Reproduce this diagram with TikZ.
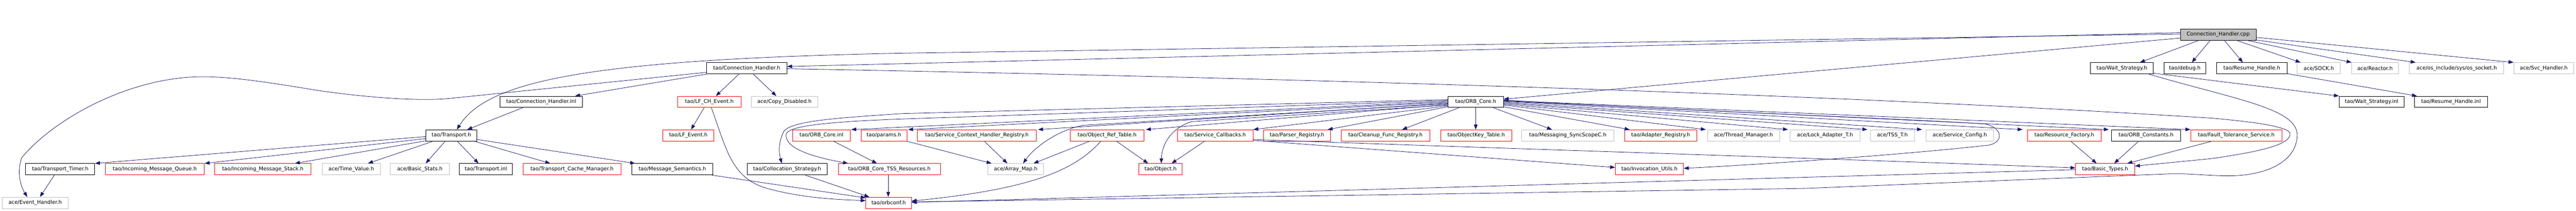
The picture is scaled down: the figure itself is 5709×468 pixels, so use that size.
\documentclass[tikz,border=0pt]{standalone}
\usepackage{fontspec}
\setmainfont{DejaVu Sans}
\usetikzlibrary{arrows.meta,calc}
\definecolor{edgec}{HTML}{191970}
\definecolor{boxgray}{HTML}{BFBFBF}
\definecolor{boxred}{HTML}{FF0000}
\newcommand{\gnode}[6]{\node[#5, minimum width={(#3-#2)*1pt}] (#1) at ({(#2+#3)/2},#4) {#6};}
\tikzset{
  box/.style={rectangle, draw, minimum height=25pt, inner sep=0pt, line width=1pt, font=\fontsize{11.5}{13}\selectfont},
  blkbox/.style={box, draw=black},
  redbox/.style={box, draw=boxred},
  graybox/.style={box, draw=boxgray},
  rootbox/.style={box, draw=black, fill=boxgray},
  dep/.style={draw=edgec, line width=0.9pt, -{Triangle[length=11pt,width=8pt]}}
}
\begin{document}
\begin{tikzpicture}[x=1pt,y=-1pt]
\useasboundingbox[fill=white] (0,0) rectangle (5709,468);
% row 0
\gnode{chc}{4832}{5000}{76.5}{rootbox}{Connection\_Handler.cpp}
% row 1
\gnode{ch}{1566}{1744}{151.5}{blkbox}{tao/Connection\_Handler.h}
\gnode{ws}{4633}{4772}{151.5}{blkbox}{tao/Wait\_Strategy.h}
\gnode{dbg}{4796}{4888}{151.5}{blkbox}{tao/debug.h}
\gnode{rh}{4912}{5069}{151.5}{blkbox}{tao/Resume\_Handle.h}
\gnode{sock}{5091}{5187}{151.5}{graybox}{ace/SOCK.h}
\gnode{reac}{5212}{5315}{151.5}{graybox}{ace/Reactor.h}
\gnode{oss}{5340}{5549}{151.5}{graybox}{ace/os\_include/sys/os\_socket.h}
\gnode{svc}{5571}{5704}{151.5}{graybox}{ace/Svc\_Handler.h}
% row 2
\gnode{chi}{1108}{1291}{226}{blkbox}{tao/Connection\_Handler.inl}
\gnode{lfch}{1502}{1642}{226}{redbox}{tao/LF\_CH\_Event.h}
\gnode{cd}{1665}{1812}{226}{graybox}{ace/Copy\_Disabled.h}
\gnode{orb}{3209}{3332}{226}{blkbox}{tao/ORB\_Core.h}
\gnode{wsi}{5184}{5328}{226}{blkbox}{tao/Wait\_Strategy.inl}
\gnode{rhi}{5351}{5513}{226}{blkbox}{tao/Resume\_Handle.inl}
% row 3
\gnode{tr}{944}{1057}{300.5}{blkbox}{tao/Transport.h}
\gnode{lfe}{1469}{1582}{300.5}{redbox}{tao/LF\_Event.h}
\gnode{oci}{1756}{1885}{300.5}{redbox}{tao/ORB\_Core.inl}
\gnode{par}{1908}{2010}{300.5}{redbox}{tao/params.h}
\gnode{sch}{2033}{2297}{300.5}{redbox}{tao/Service\_Context\_Handler\_Registry.h}
\gnode{ort}{2372}{2535}{300.5}{redbox}{tao/Object\_Ref\_Table.h}
\gnode{scb}{2609}{2777}{300.5}{redbox}{tao/Service\_Callbacks.h}
\gnode{pr}{2800}{2949}{300.5}{redbox}{tao/Parser\_Registry.h}
\gnode{cfr}{2972}{3169}{300.5}{redbox}{tao/Cleanup\_Func\_Registry.h}
\gnode{okt}{3193}{3350}{300.5}{redbox}{tao/ObjectKey\_Table.h}
\gnode{msc}{3372}{3577}{300.5}{graybox}{tao/Messaging\_SyncScopeC.h}
\gnode{ar}{3601}{3760}{300.5}{redbox}{tao/Adapter\_Registry.h}
\gnode{tm}{3784}{3944}{300.5}{graybox}{ace/Thread\_Manager.h}
\gnode{la}{3967}{4122}{300.5}{graybox}{ace/Lock\_Adapter\_T.h}
\gnode{tss}{4145}{4243}{300.5}{graybox}{ace/TSS\_T.h}
\gnode{sc}{4269}{4418}{300.5}{graybox}{ace/Service\_Config.h}
\gnode{rf}{4493}{4657}{300.5}{redbox}{tao/Resource\_Factory.h}
\gnode{oc}{4680}{4832}{300.5}{blkbox}{tao/ORB\_Constants.h}
\gnode{ft}{4855}{5057}{300.5}{redbox}{tao/Fault\_Tolerance\_Service.h}
% row 4
\gnode{tt}{57}{210}{375.5}{blkbox}{tao/Transport\_Timer.h}
\gnode{imq}{233}{453}{375.5}{redbox}{tao/Incoming\_Message\_Queue.h}
\gnode{ims}{476}{689}{375.5}{redbox}{tao/Incoming\_Message\_Stack.h}
\gnode{tv}{714}{843}{375.5}{graybox}{ace/Time\_Value.h}
\gnode{bs}{865}{996}{375.5}{graybox}{ace/Basic\_Stats.h}
\gnode{tri}{1018}{1136}{375.5}{blkbox}{tao/Transport.inl}
\gnode{tcm}{1159}{1376}{375.5}{redbox}{tao/Transport\_Cache\_Manager.h}
\gnode{ms}{1400}{1580}{375.5}{blkbox}{tao/Message\_Semantics.h}
\gnode{cs}{1656}{1833}{375.5}{blkbox}{tao/Collocation\_Strategy.h}
\gnode{tssr}{1858}{2084}{375.5}{redbox}{tao/ORB\_Core\_TSS\_Resources.h}
\gnode{am}{2189}{2313}{375.5}{graybox}{ace/Array\_Map.h}
\gnode{obj}{2524}{2620}{375.5}{redbox}{tao/Object.h}
\gnode{iu}{3580}{3731}{375.5}{redbox}{tao/Invocation\_Utils.h}
\gnode{bt}{4600}{4731}{375.5}{redbox}{tao/Basic\_Types.h}
% row 5
\gnode{eh}{5}{151}{450}{graybox}{ace/Event\_Handler.h}
\gnode{oconf}{1919}{2020}{450}{redbox}{tao/orbconf.h}

% ---- edges from Connection_Handler.cpp
\draw[dep] ($(chc.west)+(0,-4)$) -- ($(ch.east)+(0,-4)$);
\draw[dep] ($(chc.west)+(0,-1)$) -- (2000,118) .. controls (1300,132) and (1080,180) .. ($(tr.north west)+(69,0)$);
\draw[dep] ($(chc.west)+(0,8)$) -- ($(orb.east)+(0,-6)$);
\draw[dep] ($(chc.south west)+(42,0)$) -- ($(ws.north west)+(110,0)$);
\draw[dep] ($(chc.south west)+(67,0)$) -- ($(dbg.north west)+(62,0)$);
\draw[dep] ($(chc.south west)+(98,0)$) -- ($(rh.north west)+(59,0)$);
\draw[dep] ($(chc.south west)+(125,0)$) -- ($(sock.north west)+(8,0)$);
\draw[dep] ($(chc.south west)+(148,0)$) -- (reac.north west);
\draw[dep] ($(chc.south east)+(-2,-1)$) -- ($(oss.north west)+(14,0)$);
\draw[dep] ($(chc.east)+(0,6.5)$) -- (svc.north west);
% ---- Wait_Strategy / Resume_Handle
\draw[dep] ($(ws.east)+(0,11)$) -- (wsi.north west);
\draw[dep] ($(ws.south east)+(-10,0)$) .. controls (4950,220) and (5092,240) .. (5091,300)
  .. controls (5090,360) and (5020,392) .. (4930,390)
  .. controls (4880,389) and (4850,384) .. (4800,386)
  .. controls (4500,398) and (4200,410) .. (4000,418) -- ($(oconf.east)+(0,-2)$);
\draw[dep] ($(rh.south east)+(0,-1)$) -- ($(rhi.north west)+(6,0)$);
% ---- Connection_Handler.h
\draw[dep] (ch.south west) -- ($(chi.north east)+(-17,0)$);
\draw[dep] ($(ch.west)+(0,9)$) -- (1000,218) .. controls (930,226) and (800,215) .. (700,200)
  .. controls (550,175) and (470,165) .. (400,173)
  .. controls (250,190) and (110,275) .. (48,350)
  .. controls (35,390) and (50,420) .. ($(eh.north west)+(56,0)$);
\draw[dep] ($(ch.south west)+(72,0)$) -- ($(lfch.north west)+(85,0)$);
\draw[dep] ($(ch.south west)+(104,0)$) -- ($(cd.north west)+(56,0)$);
\draw[dep] ($(ch.east)+(0,1)$) .. controls (2800,172) and (4000,205) .. (4900,262)
  .. controls (5050,275) and (5080,288) .. (5075,300)
  .. controls (5070,320) and (5020,335) .. (4900,352) -- ($(bt.east)+(0,-7)$);
% ---- LF_CH_Event
\draw[dep] ($(lfch.south west)+(59,0)$) -- ($(lfe.north west)+(63,0)$);
\draw[dep] ($(lfch.south west)+(75,0)$) .. controls (1610,330) and (1620,395) .. (1700,418)
  .. controls (1780,440) and (1860,443) .. ($(oconf.west)+(0,-5)$);
% ---- Connection_Handler.inl
\draw[dep] ($(chi.south west)+(51,0)$) -- ($(tr.north east)+(-22,0)$);
% ---- Transport.h
\draw[dep] ($(tr.west)+(0,2.5)$) -- (tt.north east);
\draw[dep] ($(tr.west)+(0,7)$) -- (imq.north east);
\draw[dep] ($(tr.south west)+(0,-1)$) -- ($(ims.north west)+(178,0)$);
\draw[dep] ($(tr.south west)+(16,0)$) -- ($(tv.north west)+(102,0)$);
\draw[dep] ($(tr.south west)+(43,0)$) -- ($(bs.north west)+(79,0)$);
\draw[dep] ($(tr.south west)+(70,0)$) -- ($(tri.north west)+(43,0)$);
\draw[dep] ($(tr.south east)+(-6,0)$) -- ($(tcm.north west)+(61,0)$);
\draw[dep] ($(tr.east)+(0,9)$) -- ($(ms.north west)+(8,0)$);
\draw[dep] ($(tt.south west)+(64,0)$) -- ($(eh.north west)+(84,0)$);
% ---- into orbconf
\draw[dep] ($(ms.south east)+(-3,0)$) -- ($(oconf.north west)+(0,2)$);
\draw[dep] ($(cs.south east)+(-49,0)$) -- ($(oconf.north west)+(8,0)$);
\draw[dep] ($(tssr.south west)+(111,0)$) -- ($(oconf.north west)+(50,0)$);
\draw[dep] ($(oci.south west)+(92,0)$) -- ($(tssr.north west)+(86,0)$);
% ---- ORB_Core.h, to the left
\draw[dep] ($(orb.west)+(0,-5)$) -- (2000,252) .. controls (1850,262) and (1760,268) .. (1738,290)
  .. controls (1722,320) and (1728,345) .. ($(cs.north west)+(77,0)$);
\draw[dep] ($(orb.west)+(0,-3)$) -- (2000,264) .. controls (1780,272) and (1742,285) .. (1742,300)
  .. controls (1742,330) and (1800,348) .. ($(tssr.north west)+(22,0)$);
\draw[dep] ($(orb.west)+(0,-1)$) -- ($(oci.north east)+(1,0)$);
\draw[dep] ($(orb.west)+(0,1)$) -- ($(par.north east)+(2,0)$);
\draw[dep] ($(orb.west)+(0,3)$) -- ($(sch.north east)+(3,0)$);
\draw[dep] ($(orb.west)+(0,4)$) -- (2400,278) .. controls (2340,290) and (2290,330) .. ($(am.north west)+(79,0)$);
\draw[dep] ($(orb.west)+(0,6)$) -- ($(ort.north east)+(4,0)$);
\draw[dep] ($(orb.west)+(0,7)$) -- (2640,270) .. controls (2595,285) and (2575,320) .. ($(obj.north west)+(50,0)$);
\draw[dep] ($(orb.west)+(0,9)$) -- (scb.north east);
\draw[dep] ($(orb.south west)+(0,-2)$) -- ($(pr.north east)+(-7,0)$);
\draw[dep] ($(orb.south west)+(25,0)$) -- ($(cfr.north west)+(136,0)$);
\draw[dep] ($(orb.south west)+(62,0)$) -- ($(okt.north west)+(78,0)$);
% ---- ORB_Core.h, to the right
\draw[dep] ($(orb.south east)+(-23,0)$) -- ($(msc.north west)+(68,0)$);
\draw[dep] ($(orb.east)+(0,11)$) -- ($(ar.north west)+(11,0)$);
\draw[dep] ($(orb.east)+(0,7)$) -- ($(tm.north west)+(-3,0)$);
\draw[dep] ($(orb.east)+(0,5)$) -- ($(la.north west)+(-4,0)$);
\draw[dep] ($(orb.east)+(0,3)$) -- ($(tss.north west)+(-6,0)$);
\draw[dep] ($(orb.east)+(0,1)$) -- ($(sc.north west)+(-9,0)$);
\draw[dep] ($(orb.east)+(0,-1)$) -- ($(rf.north west)+(-10,0)$);
\draw[dep] ($(orb.east)+(0,-2)$) -- ($(oc.north west)+(-6,0)$);
\draw[dep] ($(orb.east)+(0,-3)$) -- (ft.north west);
\draw[dep] ($(orb.east)+(0,-4)$) .. controls (3700,245) and (4200,262) .. (4400,275)
  .. controls (4440,285) and (4440,315) .. (4408,322)
  .. controls (4200,345) and (3900,365) .. ($(iu.east)+(0,-2)$);
% ---- Service_Callbacks
\draw[dep] ($(scb.south west)+(61,0)$) -- ($(obj.north east)+(-24,0)$);
\draw[dep] ($(scb.east)+(0,11)$) -- ($(iu.west)+(0,-4)$);
\draw[dep] ($(scb.east)+(0,9)$) .. controls (3200,325) and (4000,350) .. ($(bt.west)+(0,-3)$);
% ---- Object_Ref_Table
\draw[dep] ($(ort.south west)+(43,0)$) -- ($(am.north east)+(-23,0)$);
\draw[dep] ($(ort.south west)+(68,0)$) .. controls (2380,380) and (2280,420) .. ($(oconf.east)+(0,-4)$);
\draw[dep] ($(ort.south west)+(103,0)$) -- ($(obj.north west)+(21,0)$);
% ---- params, Service_Context_Handler_Registry
\draw[dep] (par.south east) -- ($(am.north west)+(9,0)$);
\draw[dep] ($(sch.south west)+(149,0)$) -- ($(am.north west)+(44,0)$);
% ---- into Basic_Types
\draw[dep] ($(rf.south west)+(97,0)$) -- ($(bt.north west)+(47,0)$);
\draw[dep] ($(oc.south west)+(60,0)$) -- ($(bt.north west)+(86,0)$);
\draw[dep] ($(ft.south west)+(47,0)$) -- ($(bt.north east)+(-17,0)$);
\draw[dep] ($(bt.west)+(0,1)$) -- ($(oconf.east)+(0,-1)$);
\end{tikzpicture}
\end{document}
